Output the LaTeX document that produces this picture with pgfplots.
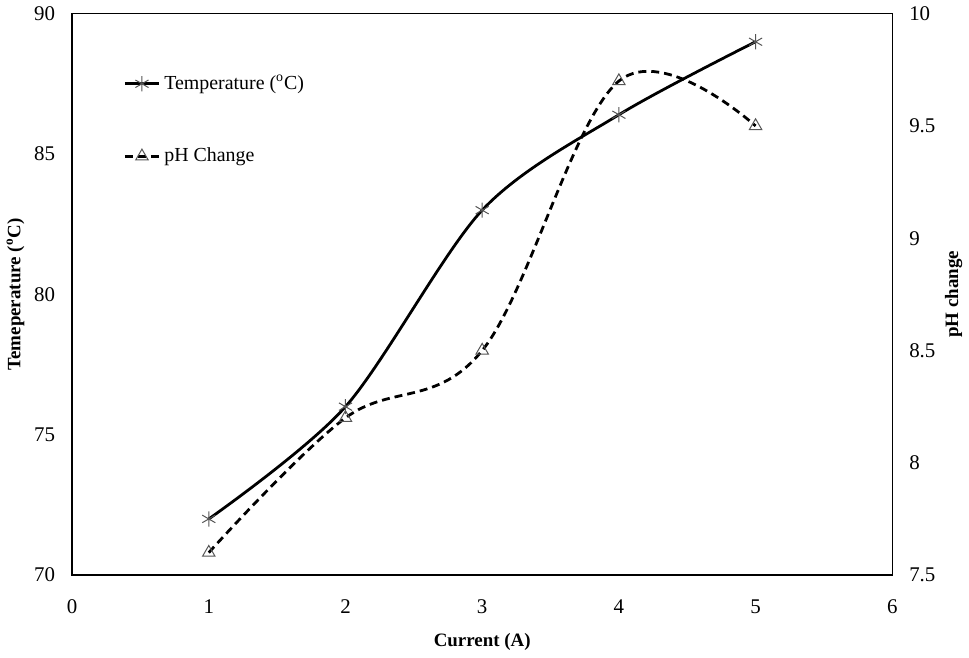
\documentclass[border=0pt]{standalone}
\usepackage{fontspec}
\setmainfont{Liberation Serif}
\usepackage{pgfplots}
\pgfplotsset{compat=1.18}
\definecolor{markGray}{HTML}{555555}

\begin{document}
\begin{tikzpicture}
  \pgfplotsset{
    every axis/.append style={
      width=412pt, height=282pt, scale only axis,
      xmin=0, xmax=6,
      major tick length=0pt,
      axis line style={black, line width=0.7pt},
      tick label style={font=\fontsize{10.5}{12}\selectfont},
      label style={font=\fontsize{9.5}{11}\selectfont\bfseries},
      /pgf/number format/assume math mode=true,
    },
  }
  \begin{axis}[
      ymin=70, ymax=90,
      ytick={70,75,...,90},
      xtick={0,1,...,6},
      xlabel={Current (A)},
      ylabel={Temeperature (\textsuperscript{o}C)},
      xticklabel style={yshift=-9pt},
      yticklabel style={xshift=-5pt},
      xlabel style={yshift=-3pt},
      ylabel style={yshift=-2pt},
      legend style={draw=none, fill=none, at={(0.055,0.905)}, anchor=north west,
        font=\fontsize{10}{12}\selectfont, row sep=24pt,
        /tikz/every even column/.append style={column sep=2pt}},
      legend cell align=left,
    ]
    \addplot[black, line width=1.4pt, smooth, tension=0.5,
      mark=asterisk, mark size=3.8pt, mark options={line width=0.5pt, draw=markGray, solid}]
      coordinates {(1,72) (2,76) (3,83) (4,86.4) (5,89)};
    \addlegendentry{Temperature (\textsuperscript{o}C)}
    \addlegendimage{black, line width=1.4pt, dash pattern=on 4pt off 2.5pt,
      mark=triangle, mark size=3.6pt, mark options={line width=0.5pt, draw=markGray, solid, fill=white}}
    \addlegendentry{pH Change}
  \end{axis}
  \begin{axis}[
      ymin=7.5, ymax=10,
      ytick={7.5,8,...,10},
      axis y line*=right,
      axis x line=none,
      ylabel={pH change},
      yticklabel style={xshift=5pt, /pgf/number format/.cd, fixed, precision=1},
      ylabel style={yshift=2pt},
    ]
    \addplot[black, line width=1.4pt, smooth, tension=0.6, dash pattern=on 4pt off 2.5pt,
      mark=triangle, mark size=3.6pt, mark options={line width=0.5pt, draw=markGray, solid, fill=white}]
      coordinates {(1,7.6) (2,8.2) (3,8.5) (4,9.7) (5,9.5)};
  \end{axis}
\end{tikzpicture}
\end{document}
